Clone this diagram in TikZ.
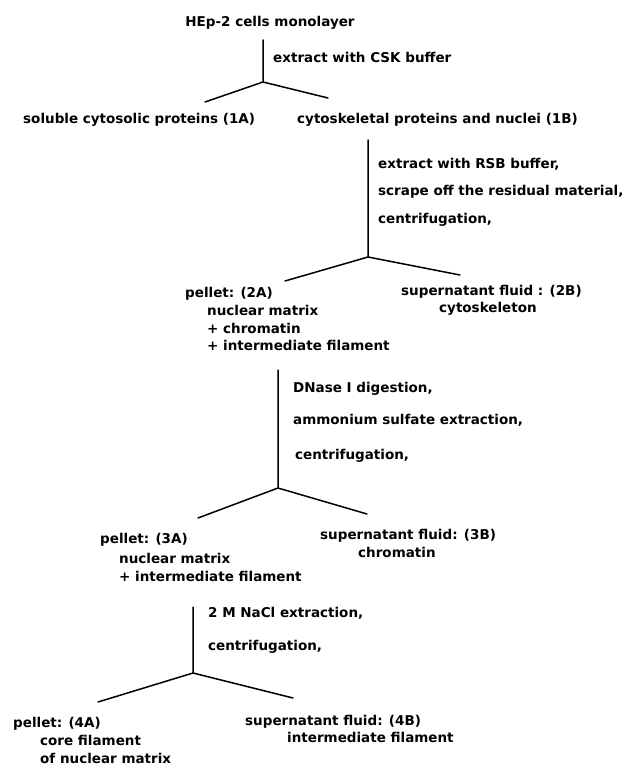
\documentclass[tikz,border=0pt]{standalone}
\usepackage{fontspec}
\setmainfont{DejaVu Sans}
\begin{document}
\begin{tikzpicture}[x=1pt,y=-1pt,
  txt/.style={anchor=mid west, inner sep=0pt, font=\bfseries\fontsize{13.5}{15}\selectfont},
  ctxt/.style={anchor=mid, inner sep=0pt, font=\bfseries\fontsize{13.5}{15}\selectfont},
  br/.style={line width=1.5pt, line cap=round}]
\useasboundingbox (0,0) rectangle (633,768);
% level 0
\node[ctxt] (t0) at (270,24) {HEp-2 cells monolayer};
\coordinate (s0) at (263,40);
\coordinate (j0) at (263,82);
\coordinate (l0) at (205,102);
\coordinate (r0) at (328,98);
\node[txt] (p0) at (273,60) {extract with CSK buffer};
\draw[br] (s0) -- (j0) (l0) -- (j0) -- (r0);
\node[txt] (a1) at (23,121) {soluble cytosolic proteins (1A)};
\node[txt] (b1) at (297,121) {cytoskeletal proteins and nuclei (1B)};
% level 1
\coordinate (s1) at (368,140);
\coordinate (j1) at (368,257);
\coordinate (l1) at (285,281);
\coordinate (r1) at (460,275);
\draw[br] (s1) -- (j1) (l1) -- (j1) -- (r1);
\node[txt] (p1a) at (378,166) {extract with RSB buffer,};
\node[txt] (p1b) at (378,193) {scrape off the residual material,};
\node[txt] (p1c) at (378,221) {centrifugation,};
\node[txt] (a2a) at (185,295) {pellet: (2A)};
\node[txt] (a2b) at (207,313) {nuclear matrix};
\node[txt] (a2c) at (207,331) {+ chromatin};
\node[txt] (a2d) at (207,348) {+ intermediate filament};
\node[txt] (b2a) at (401,293) {supernatant fluid : (2B)};
\node[txt] (b2b) at (439,310) {cytoskeleton};
% level 2
\coordinate (s2) at (278,370);
\coordinate (j2) at (278,488);
\coordinate (l2) at (198,518);
\coordinate (r2) at (367,514);
\draw[br] (s2) -- (j2) (l2) -- (j2) -- (r2);
\node[txt] (p2a) at (293,390) {DNase I digestion,};
\node[txt] (p2b) at (293,422) {ammonium sulfate extraction,};
\node[txt] (p2c) at (295,457) {centrifugation,};
\node[txt] (a3a) at (100,541) {pellet: (3A)};
\node[txt] (a3b) at (119,561) {nuclear matrix};
\node[txt] (a3c) at (119,579) {+ intermediate filament};
\node[txt] (b3a) at (320,537) {supernatant fluid: (3B)};
\node[txt] (b3b) at (358,555) {chromatin};
% level 3
\coordinate (s3) at (193,607);
\coordinate (j3) at (193,673);
\coordinate (l3) at (98,702);
\coordinate (r3) at (293,698);
\draw[br] (s3) -- (j3) (l3) -- (j3) -- (r3);
\node[txt] (p3a) at (208,615) {2 M NaCl extraction,};
\node[txt] (p3b) at (208,648) {centrifugation,};
\node[txt] (a4a) at (13,725) {pellet: (4A)};
\node[txt] (a4b) at (40,743) {core filament};
\node[txt] (a4c) at (40,761) {of nuclear matrix};
\node[txt] (b4a) at (245,723) {supernatant fluid: (4B)};
\node[txt] (b4b) at (287,740) {intermediate filament};
\end{tikzpicture}
\end{document}
